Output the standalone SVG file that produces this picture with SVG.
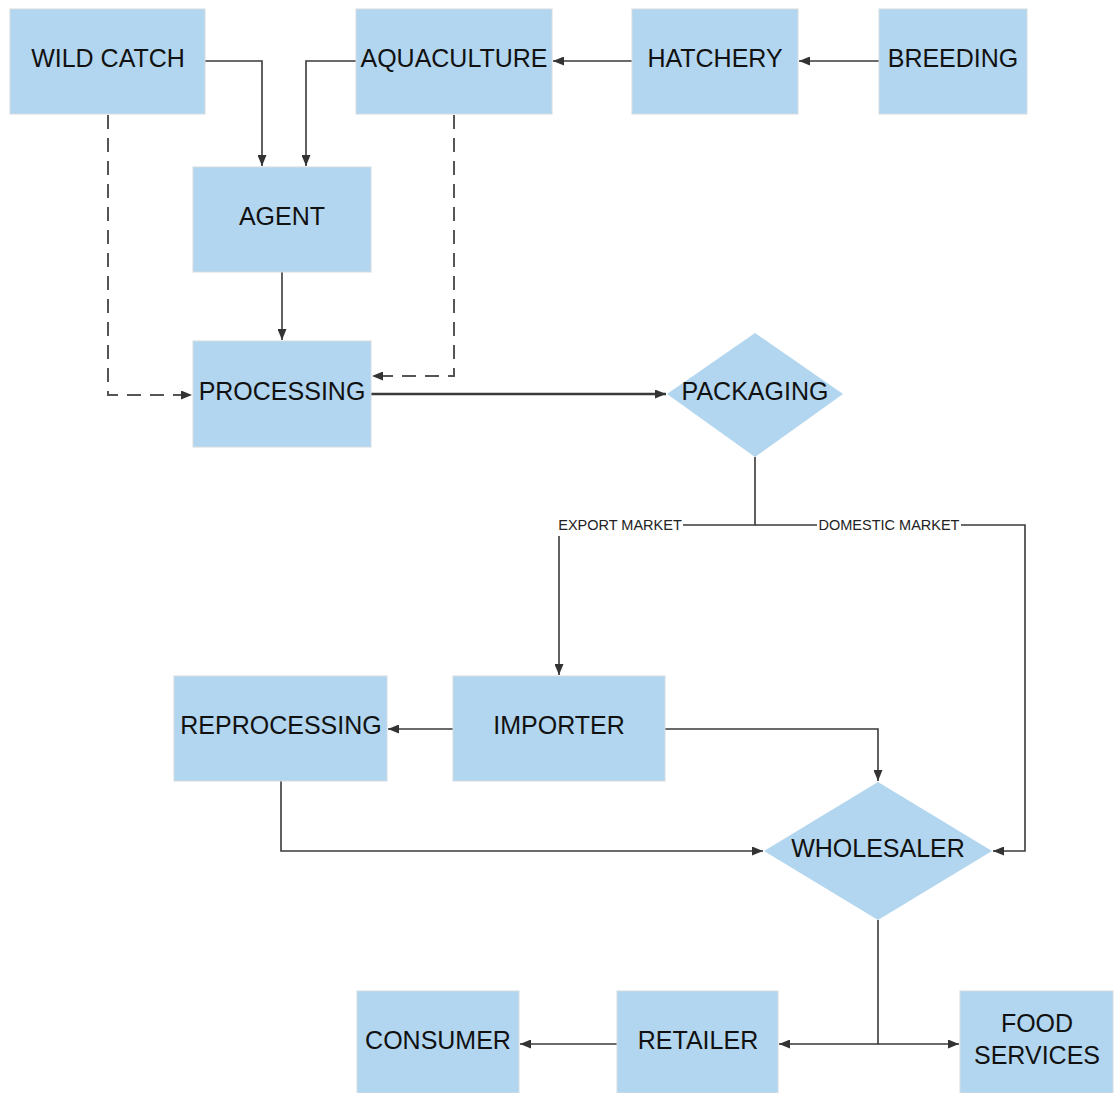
<svg xmlns="http://www.w3.org/2000/svg" width="1114" height="1093" viewBox="0 0 1114 1093">
<style>
.box{fill:#b2d6ef;stroke:#d4dce2;stroke-width:1}
.t{font-family:"Liberation Sans",Arial,sans-serif;font-size:25px;fill:#111;text-anchor:middle}
.lbl{font-family:"Liberation Sans",Arial,sans-serif;font-size:14.5px;fill:#222;text-anchor:middle}
.c{fill:none;stroke:#3a3a3a;stroke-width:1.6}
.d{fill:none;stroke:#555;stroke-width:2;stroke-dasharray:14,9}
</style>
<defs>
<marker id="ah" markerWidth="11" markerHeight="9" refX="11" refY="4.5" orient="auto" markerUnits="userSpaceOnUse">
<path d="M0,0 L11,4.5 L0,9 Z" fill="#333"/>
</marker>
</defs>
<rect width="1114" height="1093" fill="#fff"/>
<g id="connectors">
<path class="c" d="M205,61 H262 V166" marker-end="url(#ah)"/>
<path class="c" d="M356,61 H306 V166" marker-end="url(#ah)"/>
<path class="c" d="M632,61 H553" marker-end="url(#ah)"/>
<path class="c" d="M879,61 H799" marker-end="url(#ah)"/>
<path class="d" d="M108,115 V395 H192" marker-end="url(#ah)"/>
<path class="d" d="M454,115 V376 H372" marker-end="url(#ah)"/>
<path class="c" d="M282,272 V340" marker-end="url(#ah)"/>
<path class="c" style="stroke-width:2.6" d="M371,394 H666" marker-end="url(#ah)"/>
<path class="c" d="M755,457 V525 H683"/>
<path class="c" d="M559,536 V675" marker-end="url(#ah)"/>
<path class="c" d="M755,525 H817"/>
<path class="c" d="M961,525 H1025 V851 H993" marker-end="url(#ah)"/>
<path class="c" d="M453,729 H388" marker-end="url(#ah)"/>
<path class="c" d="M665,729 H878 V781" marker-end="url(#ah)"/>
<path class="c" d="M281,781 V851 H763" marker-end="url(#ah)"/>
<path class="c" d="M878,920 V1044 H779" marker-end="url(#ah)"/>
<path class="c" d="M878,1044 H959" marker-end="url(#ah)"/>
<path class="c" d="M617,1044 H520" marker-end="url(#ah)"/>
<text class="lbl" x="620" y="530">EXPORT MARKET</text>
<text class="lbl" x="889" y="530">DOMESTIC MARKET</text>
</g>
<g id="wild-catch"><rect class="box" x="10" y="9" width="195" height="105"/><text class="t" x="108" y="67">WILD CATCH</text></g>
<g id="aquaculture"><rect class="box" x="356" y="9" width="196" height="105"/><text class="t" x="454" y="67">AQUACULTURE</text></g>
<g id="hatchery"><rect class="box" x="632" y="9" width="166" height="105"/><text class="t" x="715" y="67">HATCHERY</text></g>
<g id="breeding"><rect class="box" x="879" y="9" width="148" height="105"/><text class="t" x="953" y="67">BREEDING</text></g>
<g id="agent"><rect class="box" x="193" y="167" width="178" height="105"/><text class="t" x="282" y="225">AGENT</text></g>
<g id="processing"><rect class="box" x="193" y="341" width="178" height="106"/><text class="t" x="282" y="400">PROCESSING</text></g>
<g id="packaging"><polygon class="box" style="stroke:none" points="755,333 843,394 755,457 667,394"/><text class="t" x="755" y="400">PACKAGING</text></g>
<g id="reprocessing"><rect class="box" x="174" y="676" width="213" height="105"/><text class="t" x="281" y="734">REPROCESSING</text></g>
<g id="importer"><rect class="box" x="453" y="676" width="212" height="105"/><text class="t" x="559" y="734">IMPORTER</text></g>
<g id="wholesaler"><polygon class="box" style="stroke:none" points="878,782 992,851 878,920 764,851"/><text class="t" x="878" y="857">WHOLESALER</text></g>
<g id="consumer"><rect class="box" x="357" y="991" width="162" height="102"/><text class="t" x="438" y="1049">CONSUMER</text></g>
<g id="retailer"><rect class="box" x="617" y="991" width="161" height="102"/><text class="t" x="698" y="1049">RETAILER</text></g>
<g id="food-services"><rect class="box" x="960" y="991" width="153" height="102"/><text class="t" x="1037" y="1032">FOOD</text><text class="t" x="1037" y="1064">SERVICES</text></g>
</svg>
